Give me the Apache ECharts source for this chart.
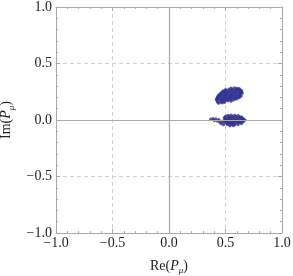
<!DOCTYPE html>
<html><head><meta charset="utf-8">
<script src="https://cdn.jsdelivr.net/npm/echarts@6/dist/echarts.min.js"></script>
<style>html,body{margin:0;padding:0;background:#fff}#c{width:293px;height:276px}</style>
</head><body><div id="c"></div>
<script>
var xTicks = [-1.0, -0.5, 0.0, 0.5, 1.0];
var yTicks = [-1.0, -0.5, 0.0, 0.5, 1.0];
var upperCluster = [
[0.55,0.281],[0.58,0.284],[0.60,0.279],[0.62,0.276],
[0.50,0.268],[0.532,0.272],[0.56,0.271],[0.59,0.268],[0.612,0.273],[0.63,0.266],
[0.48,0.258],[0.51,0.262],[0.54,0.259],[0.57,0.262],[0.60,0.258],[0.628,0.256],[0.642,0.259],
[0.47,0.249],[0.492,0.252],[0.52,0.248],[0.55,0.251],[0.58,0.247],[0.61,0.250],[0.64,0.246],
[0.46,0.238],[0.482,0.241],[0.51,0.237],[0.532,0.242],[0.56,0.238],[0.59,0.240],[0.62,0.236],[0.648,0.238],
[0.452,0.228],[0.47,0.231],[0.50,0.227],[0.522,0.232],[0.55,0.228],[0.572,0.230],[0.60,0.226],[0.63,0.229],
[0.44,0.219],[0.462,0.222],[0.49,0.218],[0.512,0.221],[0.54,0.217],[0.562,0.220],[0.59,0.216],[0.62,0.219],[0.638,0.214],
[0.432,0.209],[0.452,0.212],[0.48,0.208],[0.50,0.211],[0.53,0.207],[0.552,0.210],[0.58,0.206],[0.61,0.209],[0.628,0.204],
[0.43,0.198],[0.46,0.201],[0.482,0.197],[0.51,0.200],[0.532,0.196],[0.56,0.199],[0.59,0.195],[0.615,0.198],
[0.422,0.188],[0.44,0.191],[0.47,0.187],[0.50,0.190],[0.522,0.186],[0.55,0.189],[0.58,0.185],[0.60,0.188],
[0.42,0.178],[0.452,0.181],[0.48,0.177],[0.51,0.180],[0.54,0.176],[0.57,0.179],
[0.43,0.168],[0.46,0.171],[0.49,0.167],[0.52,0.170],[0.55,0.168],
[0.432,0.158],[0.462,0.161],[0.49,0.157],
[0.44,0.149],[0.47,0.152]
];
var lowerCluster = [
[0.37,0.006],[0.39,0.011],[0.402,-0.004],[0.415,0.009],[0.43,-0.009],[0.442,0.002],[0.452,-0.021],[0.462,-0.031],[0.472,-0.012],[0.482,-0.041],
[0.52,0.041],[0.55,0.043],[0.58,0.040],[0.61,0.038],
[0.50,0.031],[0.53,0.033],[0.56,0.029],[0.59,0.032],[0.62,0.030],[0.64,0.028],
[0.49,0.021],[0.52,0.019],[0.54,0.022],[0.57,0.020],[0.60,0.018],[0.63,0.021],[0.65,0.017],
[0.50,0.011],[0.53,0.009],[0.55,0.012],[0.58,0.010],[0.61,0.008],[0.64,0.011],[0.66,0.007],
[0.49,0.001],[0.51,-0.002],[0.54,0.002],[0.56,-0.001],[0.59,0.001],[0.62,-0.002],[0.65,0.002],[0.672,-0.001],
[0.50,-0.011],[0.52,-0.009],[0.55,-0.012],[0.57,-0.010],[0.60,-0.008],[0.63,-0.011],[0.66,-0.009],
[0.49,-0.021],[0.52,-0.019],[0.54,-0.022],[0.57,-0.020],[0.59,-0.018],[0.62,-0.021],[0.65,-0.019],
[0.51,-0.031],[0.53,-0.029],[0.56,-0.032],[0.58,-0.030],[0.61,-0.028],[0.64,-0.031],
[0.52,-0.041],[0.55,-0.039],[0.58,-0.042],[0.61,-0.040],
[0.54,-0.051],[0.57,-0.049]
];
var ptColor = '#2e3192';
var frameColor = '#a8a8a8';
var fontFam = '"Liberation Serif", "DejaVu Serif", serif';
function fmt(v){ var s = Math.abs(v).toFixed(1); return v < -1e-9 ? '\u2212' + s : s; }
var richName = {
  n: {fontFamily: fontFam, fontSize: 14, color: '#222', lineHeight: 18},
  i: {fontFamily: fontFam, fontSize: 14, fontStyle: 'italic', color: '#222', lineHeight: 18},
  s: {fontFamily: fontFam, fontSize: 9, fontStyle: 'italic', color: '#222', lineHeight: 18, verticalAlign: 'bottom', padding: [6,0,0,0]}
};
function axisCommon(showLabels){
  return {
    type: 'value', min: -1, max: 1, interval: 0.5,
    axisLine: {show: true, onZero: false, lineStyle: {color: frameColor, width: 1}},
    axisTick: {show: true, inside: true, length: 4, lineStyle: {color: frameColor}},
    minorTick: {show: true, splitNumber: 5, length: 2, lineStyle: {color: frameColor}},
    splitLine: {show: false},
    axisLabel: {show: showLabels, formatter: fmt, fontFamily: fontFam, fontSize: 14, color: '#222', margin: 4}
  };
}
var x0 = axisCommon(true);
x0.position = 'bottom';
x0.name = '{n|Re(}{i|P}{s|\u03bc}{n|)}';
x0.nameLocation = 'middle'; x0.nameGap = 24;
x0.nameTextStyle = {rich: richName};
x0.splitLine = {show: true, lineStyle: {color: '#d0d0d0', type: [4,3], width: 1}};
x0.axisLabel.margin = 3;
var x1 = axisCommon(false); x1.position = 'top';
var y0 = axisCommon(true);
y0.position = 'left';
y0.name = '{n|Im(}{i|P}{s|\u03bc}{n|)}';
y0.nameLocation = 'middle'; y0.nameGap = 34; y0.nameRotate = 90;
y0.nameTextStyle = {rich: richName};
y0.splitLine = {show: true, lineStyle: {color: '#d0d0d0', type: [4,3], width: 1}};
var y1 = axisCommon(false); y1.position = 'right';
var chart = echarts.init(document.getElementById('c'), null, {renderer: 'canvas'});
chart.setOption({
  animation: false,
  grid: {left: 56, right: 11, top: 7, bottom: 43, containLabel: false, outerBoundsMode: 'none'},
  xAxis: [x0, x1],
  yAxis: [y0, y1],
  series: [
    {type: 'scatter', xAxisIndex: 0, yAxisIndex: 0, data: upperCluster, symbolSize: 3.4,
     itemStyle: {color: ptColor},
     markLine: {silent: true, symbol: 'none', label: {show: false},
       lineStyle: {color: '#aaaaaa', type: 'solid', width: 1.2},
       data: [{xAxis: 0}, {yAxis: 0}]}},
    {type: 'scatter', xAxisIndex: 0, yAxisIndex: 0, data: lowerCluster, symbolSize: 3.4,
     itemStyle: {color: ptColor}}
  ]
});
</script></body></html>
